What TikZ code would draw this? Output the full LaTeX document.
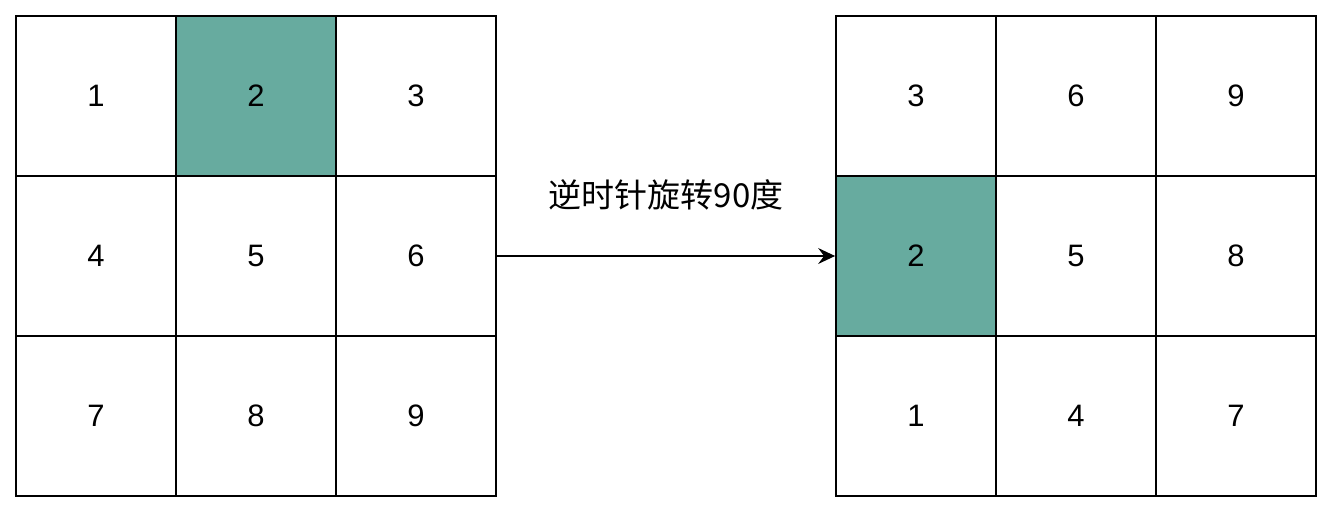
\documentclass[tikz,border=0pt]{standalone}
\usepackage{fontspec}
\setmainfont{Liberation Sans}
\newfontfamily\cjkfont{Noto Sans CJK SC}
\usetikzlibrary{arrows.meta}
\definecolor{tealfill}{HTML}{67AB9F}
\begin{document}
\begin{tikzpicture}[x=1pt,y=-1pt,
  cell/.style={draw=black, line width=1.8pt, fill=white, minimum size=160pt,
    inner sep=0pt, font=\fontsize{31}{36}\selectfont},
  hot/.style={cell, fill=tealfill},
  link/.style={draw=black, line width=1.4pt,
    -{Stealth[length=17pt,width=16pt,inset=6pt]}}]
\useasboundingbox (0,0) rectangle (1334,514);
% left grid: original order
\node[cell] (L1) at (96,96)   {1};
\node[hot]  (L2) at (256,96)  {2};
\node[cell] (L3) at (416,96)  {3};
\node[cell] (L4) at (96,256)  {4};
\node[cell] (L5) at (256,256) {5};
\node[cell] (L6) at (416,256) {6};
\node[cell] (L7) at (96,416)  {7};
\node[cell] (L8) at (256,416) {8};
\node[cell] (L9) at (416,416) {9};
% right grid: rotated counter-clockwise
\node[cell] (R1) at (916,96)   {3};
\node[cell] (R2) at (1076,96)  {6};
\node[cell] (R3) at (1236,96)  {9};
\node[hot]  (R4) at (916,256)  {2};
\node[cell] (R5) at (1076,256) {5};
\node[cell] (R6) at (1236,256) {8};
\node[cell] (R7) at (916,416)  {1};
\node[cell] (R8) at (1076,416) {4};
\node[cell] (R9) at (1236,416) {7};
% transformation arrow
\draw[link] (L6.east) -- (R4.west);
\node[font={\cjkfont\fontsize{33}{38}\selectfont}] (lbl) at (666,195) {逆时针旋转90度};
\end{tikzpicture}
\end{document}
